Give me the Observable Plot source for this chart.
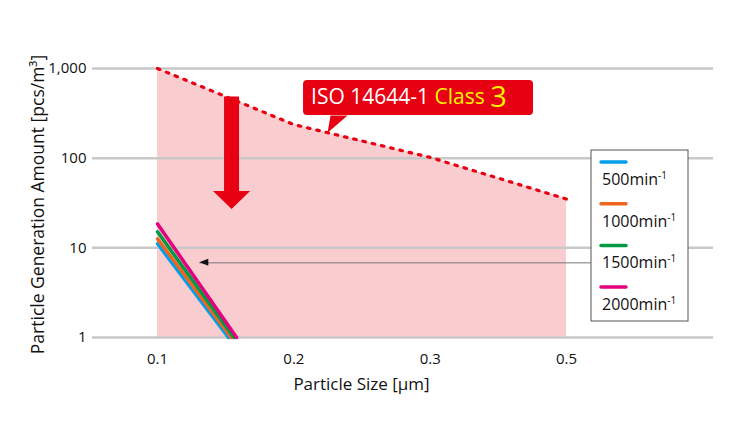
<!DOCTYPE html>
<html>
<head>
<meta charset="utf-8">
<script src="https://cdn.jsdelivr.net/npm/d3@7"></script>
<script src="https://cdn.jsdelivr.net/npm/@observablehq/plot@0.6"></script>
<style>
  html, body { margin: 0; padding: 0; background: #fff; }
  #chart { width: 740px; height: 427px; }
  svg { font-family: "Open Sans", "Noto Sans", sans-serif; }
</style>
</head>
<body>
<div id="chart"></div>
<script>
// ---- data ----
const sizeLabels = ["0.1", "0.2", "0.3", "0.5"];
const sizePositions = [1, 2, 3, 4];
const classLimit = [1000, 237, 102, 35];

const speedLabels = ["500", "1000", "1500", "2000"];
const speedColors = ["#00a0e9", "#ef6420", "#009a44", "#e4007f"];
const genStart = [11.1, 12.6, 15.1, 18.5];      // value at 0.1 µm
const genEndPos = [1.52, 1.54, 1.56, 1.58];     // position where value reaches 1

const yTicks = [1, 10, 100, 1000];

// annotation anchors (data units)
const bigArrow = {x: 1.543, top: 488, base: 43, tip: 27.1, shaftHalf: 0.055, headHalf: 0.136};
const pointerArrow = {x1: 4.24, x2: 1.31, y: 6.8};
const callout = {x1: 2.071, x2: 3.758, y1: 300, y2: 736, px1: 2.269, px2: 2.394, ptx: 2.247, pty: 192, pby: 300};

// ---- derived tables ----
const iso = sizePositions.map((p, i) => ({pos: p, v: classLimit[i]}));
const gen = speedLabels.flatMap((s, i) => [
  {speed: s, pos: 1, v: genStart[i]},
  {speed: s, pos: genEndPos[i], v: 1}
]);
const arrowPoly = [
  [bigArrow.x - bigArrow.shaftHalf, bigArrow.top],
  [bigArrow.x + bigArrow.shaftHalf, bigArrow.top],
  [bigArrow.x + bigArrow.shaftHalf, bigArrow.base],
  [bigArrow.x + bigArrow.headHalf, bigArrow.base],
  [bigArrow.x, bigArrow.tip],
  [bigArrow.x - bigArrow.headHalf, bigArrow.base],
  [bigArrow.x - bigArrow.shaftHalf, bigArrow.base]
].map(([x, y]) => ({x, y}));
const pointerPoly = [
  {x: callout.px1, y: callout.pby}, {x: callout.px2, y: callout.pby}, {x: callout.ptx, y: callout.pty}
];

const W = 740, H = 427;
const mL = 92, mR = 27, mT = 68, mB = 90;
const xDomain = [0.523, 5.078];

const plot = Plot.plot({
  width: W, height: H,
  marginLeft: mL, marginRight: mR, marginTop: mT, marginBottom: mB,
  style: {fontFamily: "Open Sans, Noto Sans, sans-serif", fontSize: "15px", color: "#111"},
  x: {domain: xDomain, label: null},
  y: {type: "log", domain: [1, 1000], label: null},
  color: {domain: speedLabels, range: speedColors},
  marks: [
    Plot.areaY(iso, {x: "pos", y1: 1, y2: "v", fill: "#f9ccd0"}),
    Plot.ruleY(yTicks, {stroke: "#c8c8c8", strokeWidth: 2.5}),
    Plot.axisX({ticks: sizePositions, tickFormat: (d) => sizeLabels[sizePositions.indexOf(d)], tickSize: 0, tickPadding: 16, fontSize: 15}),
    Plot.axisY({ticks: yTicks, tickFormat: d3.format(","), tickSize: 0, tickPadding: 6, fontSize: 15}),
    Plot.line(iso, {x: "pos", y: "v", stroke: "#e60012", strokeWidth: 3.2, strokeDasharray: "2.5,7", strokeLinecap: "round"}),
    Plot.line(gen, {x: "pos", y: "v", z: "speed", stroke: "speed", strokeWidth: 3.5}),
    Plot.line(arrowPoly, {x: "x", y: "y", fill: "#e60012", stroke: "none"}),
    Plot.ruleY([pointerArrow], {x1: "x1", x2: "x2", y: "y", stroke: "#777", strokeWidth: 1}),
    Plot.rect([callout], {x1: "x1", x2: "x2", y1: "y1", y2: "y2", fill: "#e60012", rx: 4}),
    Plot.line(pointerPoly, {x: "x", y: "y", fill: "#e60012", stroke: "none"})
  ]
});

// replica scales for overlay drawing
const xs = d3.scaleLinear().domain(xDomain).range([mL, W - mR]);
const ys = d3.scaleLog().domain([1, 1000]).range([H - mB, mT]);

const svg = d3.select(plot);

// pointer arrowhead (small black triangle)
const hx = xs(pointerArrow.x2), hy = ys(pointerArrow.y);
svg.append("path")
  .attr("d", `M${hx},${hy}L${hx + 9},${hy - 3.5}L${hx + 9},${hy + 3.5}Z`)
  .attr("fill", "#111");

// callout text
const ct = svg.append("text")
  .attr("x", xs(callout.x1) + 8)
  .attr("y", ys(callout.y1) - 11)
  .attr("text-anchor", "start")
  .style("font-size", "21px");
ct.append("tspan").attr("fill", "#fff").text("ISO 14644-1 ");
ct.append("tspan").attr("fill", "#fff100").text("Class ");
ct.append("tspan").attr("fill", "#fff100").style("font-size", "29px").attr("dy", 3).text("3");

// legend box
const lx = 591, ly = 150, lw = 97, lh = 171;
const lg = svg.append("g").attr("text-anchor", "start");
lg.append("rect").attr("x", lx).attr("y", ly).attr("width", lw).attr("height", lh)
  .attr("fill", "#fff").attr("stroke", "#555").attr("stroke-width", 1);
speedLabels.forEach((s, i) => {
  const yy = ly + 12 + i * 41.7;
  lg.append("line").attr("x1", lx + 10).attr("x2", lx + 35).attr("y1", yy).attr("y2", yy)
    .attr("stroke", speedColors[i]).attr("stroke-width", 3.5).attr("stroke-linecap", "round");
  const t = lg.append("text").attr("x", lx + 11).attr("y", yy + 23)
    .attr("text-anchor", "start").style("font-size", "16px").attr("fill", "#111");
  t.append("tspan").text(s + "min");
  t.append("tspan").style("font-size", "10px").attr("dy", -6).text("-1");
});

// axis titles
svg.append("text")
  .attr("x", (xs(1) + xs(4)) / 2).attr("y", 390)
  .attr("text-anchor", "middle").style("font-size", "17px").attr("fill", "#111")
  .text("Particle Size [μm]");
svg.append("text")
  .attr("transform", `translate(44,${(mT + H - mB) / 2 + 2}) rotate(-90)`)
  .attr("text-anchor", "middle").style("font-size", "17.5px").attr("fill", "#111")
  .text("Particle Generation Amount [pcs/m³]");

document.getElementById("chart").appendChild(plot);
</script>
</body>
</html>
